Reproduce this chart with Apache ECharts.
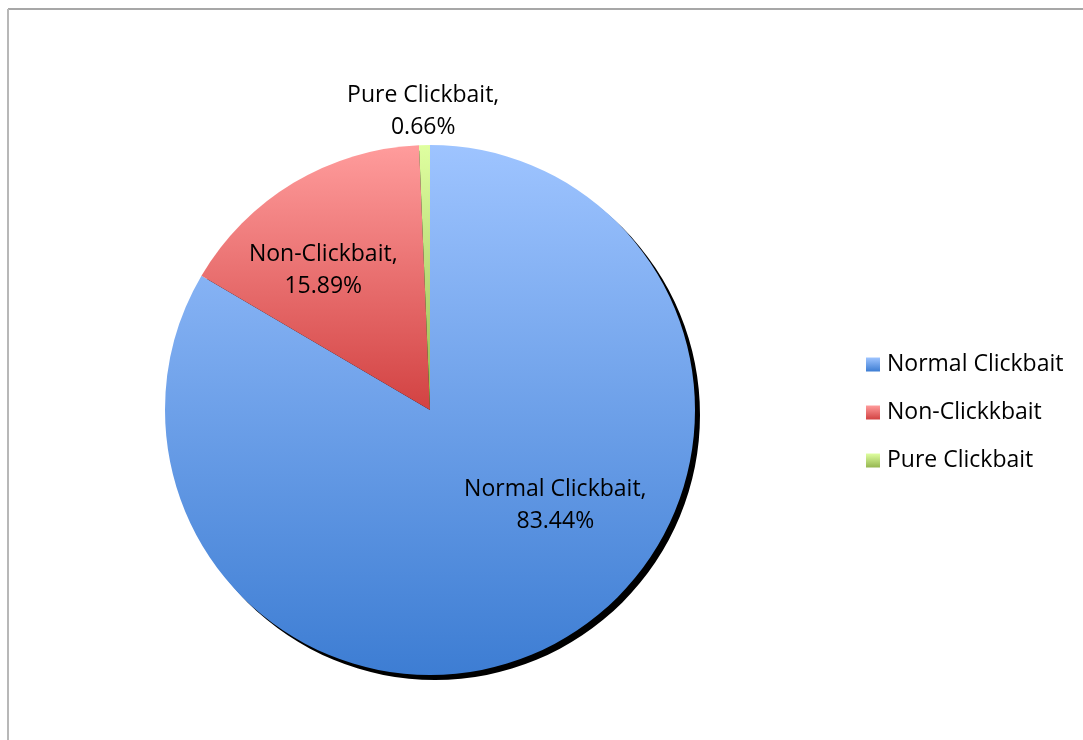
<!DOCTYPE html>
<html>
<head>
<meta charset="utf-8">
<style>
  html, body { margin: 0; padding: 0; background: #ffffff; }
  #chart { width: 1083px; height: 740px; }
</style>
<script src="https://cdn.jsdelivr.net/npm/echarts@6/dist/echarts.min.js"></script>
</head>
<body>
<div id="chart"></div>
<script>
// Share of headlines per class (percent)
const legendNames = ['Normal Clickbait', 'Non-Clickkbait', 'Pure Clickbait'];
const labelNames  = ['Normal Clickbait', 'Non-Clickbait', 'Pure Clickbait'];
const shares      = [83.44, 15.89, 0.66];

// vertical gradient stops per slice: [top, bottom]
const sliceColors = [
  ['#9EC4FF', '#3D7DD3'],
  ['#FF9C9C', '#D24242'],
  ['#DFFFA0', '#95B650']
];
// nudges from the default inside label spot
const labelOffsets = [[58, -22], [-37, -23], [-4, -163]];

const FONT = '"Open Sans", "Liberation Sans", sans-serif';
const CENTER = [430, 410];
const RADIUS = 265;

const chart = echarts.init(document.getElementById('chart'), null, { renderer: 'canvas' });

const mainData = shares.map((v, i) => ({
  name: legendNames[i],
  value: v,
  labelText: labelNames[i],
  itemStyle: {
    color: new echarts.graphic.LinearGradient(0, 0, 0, 1, [
      { offset: 0, color: sliceColors[i][0] },
      { offset: 1, color: sliceColors[i][1] }
    ])
  },
  label: { offset: labelOffsets[i] }
}));

chart.setOption({
  animation: false,
  backgroundColor: '#ffffff',
  graphic: [
    { type: 'line', shape: { x1: 8, y1: 9, x2: 1083, y2: 9 }, style: { stroke: '#8a8a8a', lineWidth: 1.5 }, z: 10 },
    { type: 'line', shape: { x1: 8, y1: 9, x2: 8, y2: 740 }, style: { stroke: '#b8b8b8', lineWidth: 2 }, z: 10 }
  ],
  legend: {
    orient: 'vertical',
    left: 861,
    top: 348,
    itemWidth: 14,
    itemHeight: 14,
    itemGap: 25,
    icon: 'rect',
    data: legendNames,
    textStyle: { fontFamily: FONT, fontSize: 23, lineHeight: 20, color: '#000000', padding: [0, 0, 0, 2] }
  },
  series: [
    {
      // solid drop shadow under the pie
      type: 'pie',
      silent: true,
      center: [CENTER[0] + 5, CENTER[1] + 5],
      radius: RADIUS,
      startAngle: 90,
      clockwise: true,
      label: { show: false },
      labelLine: { show: false },
      itemStyle: { color: '#000000' },
      data: shares.map((v, i) => ({ name: 'shadow' + i, value: v })),
      z: 1
    },
    {
      type: 'pie',
      center: CENTER,
      radius: RADIUS,
      startAngle: 90,
      clockwise: true,
      avoidLabelOverlap: false,
      itemStyle: { borderWidth: 0 },
      label: {
        show: true,
        position: 'inside',
        fontFamily: FONT,
        fontSize: 23,
        lineHeight: 32,
        color: '#000000',
        align: 'center',
        formatter: p => p.data.labelText + ',\n' + p.value.toFixed(2) + '%'
      },
      labelLine: { show: false },
      emphasis: { disabled: true },
      data: mainData,
      z: 2
    }
  ]
});
</script>
</body>
</html>
